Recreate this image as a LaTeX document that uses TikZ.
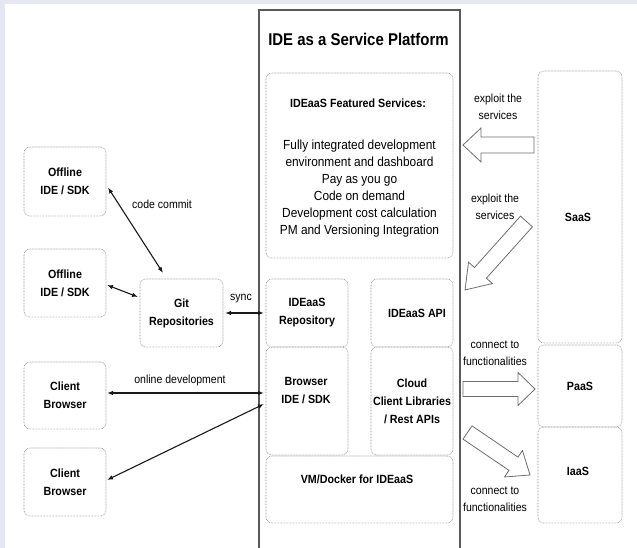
\documentclass[tikz,border=0pt]{standalone}
\usepackage{fontspec}
\setmainfont{Liberation Sans}[FakeStretch=0.9]
\newfontfamily\titlefont{Liberation Sans}[FakeStretch=0.88]
\usetikzlibrary{arrows.meta,calc}
\definecolor{lav}{RGB}{231,231,243}
\definecolor{dotgray}{RGB}{150,150,150}
\definecolor{framegray}{RGB}{90,90,90}
\definecolor{arrgray}{RGB}{110,110,110}
\newcommand\blockarrow[6]{%
  \begin{scope}[shift={#1}, rotate=#2]
    \draw[blk] (0,-#4) -- ({#3-#6},-#4) -- ({#3-#6},-#5) -- (#3,0) -- ({#3-#6},#5) -- ({#3-#6},#4) -- (0,#4) -- cycle;
  \end{scope}}
\begin{document}
\begin{tikzpicture}[x=1pt,y=-1pt,
  box/.style={draw=dotgray, line width=0.6pt, dash pattern=on 0.7pt off 0.8pt,
    rounded corners=6pt, inner sep=0pt, outer sep=0pt, align=center,
    font=\fontsize{11.9}{18}\selectfont\bfseries},
  btxt/.style={inner sep=0pt, align=center, font=\fontsize{11.9}{18}\selectfont\bfseries},
  lbl/.style={inner sep=0pt, align=center, font=\fontsize{11.7}{17}\selectfont},
  link/.style={line width=1.1pt, draw=black!90,
    {Latex[length=6pt,width=4.5pt]}-{Latex[length=6pt,width=4.5pt]}},
  blk/.style={draw=arrgray, line width=0.8pt, fill=white, line join=miter},
]
\useasboundingbox (0,0) rectangle (637,548);
\fill[lav] (0,0) rectangle (637,548);
\fill[white] (5,4.5) rectangle (637,548);

% platform frame
\node[draw=framegray, line width=1.2pt, minimum width=201pt, minimum height=560pt,
  anchor=north west, inner sep=0pt, outer sep=0pt] (plat) at (259,10) {};
\node[inner sep=0pt, font=\titlefont\fontsize{17}{20}\selectfont\bfseries] (ptitle) at (358.5,39) {IDE as a Service Platform};

% featured services
\node[box, minimum width=187pt, minimum height=185pt] (feat) at (359.5,165.5) {};
\node[btxt] (feattitle) at (358,103) {IDEaaS Featured Services:};
\node[inner sep=0pt, align=center, font=\fontsize{13.2}{17}\selectfont] (featlist) at (359.5,188.5)
  {Fully integrated development\\environment and dashboard\\Pay as you go\\Code on demand\\Development cost calculation\\PM and Versioning Integration};

% inner platform boxes
\node[box, minimum width=82pt, minimum height=68pt] (repo) at (307,313) {IDEaaS\\Repository};
\node[box, minimum width=82pt, minimum height=68pt] (api) at (412,313) {};
\node[btxt] (apit) at (417,313) {IDEaaS API};
\node[box, minimum width=82pt, minimum height=108pt] (bide) at (307,401) {};
\node[btxt] (bidet) at (306,390.5) {Browser\\IDE / SDK};
\node[box, minimum width=82pt, minimum height=108pt] (cloud) at (412,401) {Cloud\\Client Libraries\\/ Rest APIs};
\node[box, minimum width=187pt, minimum height=67pt] (vm) at (359.5,489.5) {};
\node[btxt] (vmt) at (357,479) {VM/Docker for IDEaaS};

% left boxes
\node[box, minimum width=82pt, minimum height=69pt] (off1) at (65,181.5) {Offline\\IDE / SDK};
\node[box, minimum width=82pt, minimum height=68pt] (off2) at (65,283) {Offline\\IDE / SDK};
\node[box, minimum width=83pt, minimum height=68pt] (git) at (181.5,313) {Git\\Repositories};
\node[box, minimum width=82pt, minimum height=67pt] (cb1) at (65,395.5) {Client\\Browser};
\node[box, minimum width=82pt, minimum height=68pt] (cb2) at (65,482) {Client\\Browser};

% right boxes
\node[box, minimum width=84pt, minimum height=272pt] (saas) at (580,207) {};
\node[btxt] (saast) at (578,217) {SaaS};
\node[box, minimum width=84pt, minimum height=82pt] (paas) at (580,386) {PaaS};
\node[box, minimum width=84pt, minimum height=96pt] (iaas) at (580,475) {};
\node[btxt] (iaast) at (578,471) {IaaS};

% connectors
\draw[link] ([shift={(2,6)}]off1.east) -- ([shift={(-18.5,-6)}]git.north);
\draw[link] ([shift={(1,2)}]off2.east) -- ([shift={(-2,-16)}]git.west);
\draw[link] ([shift={(2,0)}]git.east) -- ([shift={(-2,0)}]repo.west);
\draw[link] ([shift={(-2,-8)}]bide.west) -- ([shift={(1,-2.5)}]cb1.east);
\draw[link] ([shift={(-2,3)}]bide.west) -- ([shift={(1,-2)}]cb2.east);

% connector labels
\node[lbl] (lcommit) at (162,204) {code commit};
\node[lbl] (lsync) at (241,299) {sync};
\node[lbl] (lonline) at (180,380) {online development};
\node[lbl] (lexp1) at (498,107) {exploit the\\services};
\node[lbl] (lexp2) at (495,207) {exploit the\\services};
\node[lbl] (lcon1) at (495,353.5) {connect to\\functionalities};
\node[lbl] (lcon2) at (495,499.5) {connect to\\functionalities};

% block arrows
\blockarrow{(534,145)}{180}{71}{8}{17}{18}
\blockarrow{(526.5,221.5)}{-131.9}{92}{8}{16}{23}
\blockarrow{(463,389)}{0}{72}{7.5}{16.5}{17}
\blockarrow{(467.5,432.5)}{-34.2}{75.6}{8}{16}{20}
\end{tikzpicture}
\end{document}
